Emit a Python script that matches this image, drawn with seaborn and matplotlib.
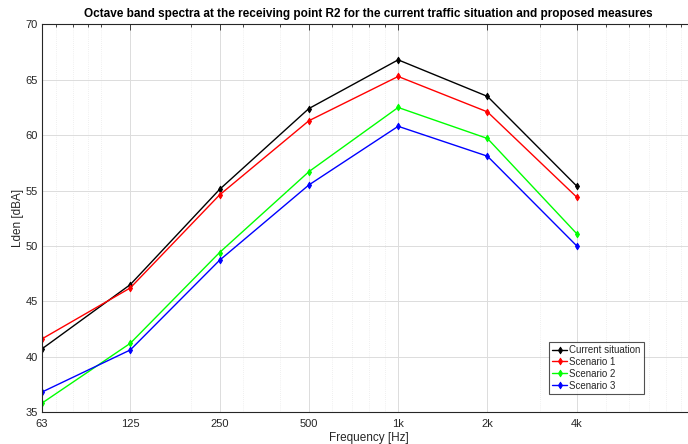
import numpy as np
import pandas as pd
import matplotlib
matplotlib.use("Agg")
import matplotlib.pyplot as plt
from matplotlib.ticker import FixedLocator, LogLocator, NullFormatter
import seaborn as sns

# Octave band centre frequencies and their labels
freqs = [63, 125, 250, 500, 1000, 2000, 4000]
freq_labels = ["63", "125", "250", "500", "1k", "2k", "4k"]

# Lden per octave band [dBA]
current = [40.7, 46.5, 55.1, 62.4, 66.8, 63.5, 55.4]
scenario1 = [41.6, 46.2, 54.6, 61.3, 65.3, 62.1, 54.4]
scenario2 = [35.8, 41.2, 49.4, 56.7, 62.5, 59.7, 51.1]
scenario3 = [36.8, 40.6, 48.7, 55.5, 60.8, 58.1, 50.0]

series_names = ["Current situation", "Scenario 1", "Scenario 2", "Scenario 3"]
series_values = [current, scenario1, scenario2, scenario3]
series_colors = ["#000000", "#ff0000", "#00ff00", "#0000ff"]

df = pd.concat(
    [pd.DataFrame({"freq": freqs, "level": vals, "series": name})
     for name, vals in zip(series_names, series_values)],
    ignore_index=True,
)

sns.set_style("white")
plt.rcParams["font.family"] = ["Liberation Sans", "DejaVu Sans"]

fig = plt.figure(figsize=(6.88, 4.44), dpi=100)
ax = fig.add_axes([0.061, 0.0721, 0.9489, 0.8729])

sns.lineplot(
    data=df, x="freq", y="level", hue="series", hue_order=series_names,
    palette=dict(zip(series_names, series_colors)), marker="d",
    markersize=3.5, markeredgewidth=0.6, linewidth=1.0, sort=False, ax=ax,
)
# diamond markers drawn in the line colour (no white edge)
for ln in ax.lines:
    ln.set_markeredgecolor(ln.get_color())

ax.set_xscale("log")
ax.set_xlim(63, 10000)
ax.set_ylim(35, 70)

ax.xaxis.set_major_locator(FixedLocator(freqs))
ax.set_xticklabels(freq_labels)
ax.xaxis.set_minor_locator(LogLocator(base=10, subs=np.arange(1, 10), numticks=20))
ax.xaxis.set_minor_formatter(NullFormatter())
ax.set_yticks(np.arange(35, 71, 5))

ax.tick_params(axis="both", which="both", direction="in", top=True, right=True,
               labelsize=8, labelcolor="#262626", color="#262626", width=0.6)
ax.tick_params(axis="both", which="major", length=4, pad=3)
ax.tick_params(axis="x", which="major", pad=5)
ax.tick_params(axis="x", which="minor", length=2.5)

ax.grid(True, which="major", color="#dcdcdc", linewidth=0.7, linestyle="-")
ax.grid(True, which="minor", axis="x", color="#e2e2e2", linewidth=0.5,
        linestyle=(0, (1, 2)))
ax.set_axisbelow(True)

for sp in ax.spines.values():
    sp.set_color("#262626")
    sp.set_linewidth(0.8)

ax.set_xlabel("Frequency [Hz]", fontsize=8.5, color="#262626", labelpad=2)
ax.set_ylabel("Lden [dBA]", fontsize=8.5, color="#262626", labelpad=1)
ax.set_title("Octave band spectra at the receiving point R2 for the current traffic situation and proposed measures",
             fontsize=8.5, fontweight="bold", color="black", pad=5)

leg = ax.legend(
    loc="upper left", bbox_to_anchor=(0.798, 0.2297), bbox_transform=fig.transFigure,
    fontsize=7, frameon=True, fancybox=False, edgecolor="#262626",
    handlelength=1.6, handletextpad=0.2, borderpad=0.3, labelspacing=0.2,
    borderaxespad=0,
)
leg.get_frame().set_linewidth(0.8)

fig.savefig("out.png", dpi=100)
